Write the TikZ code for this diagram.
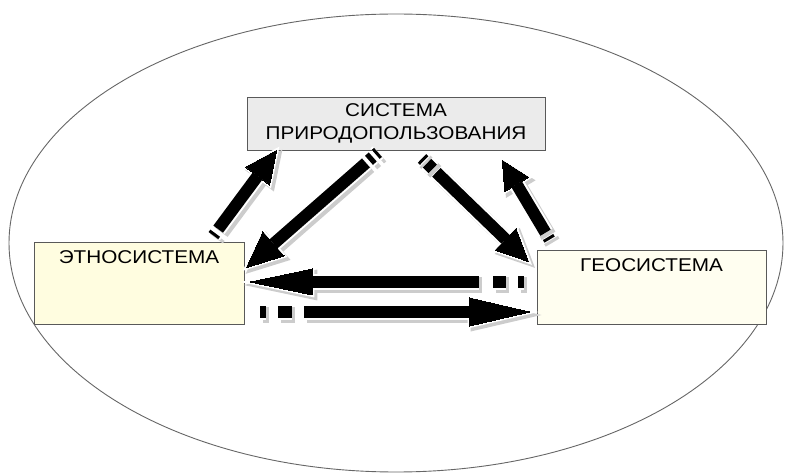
\documentclass[tikz,border=0pt]{standalone}
\usepackage{fontspec}
\setmainfont{Liberation Sans}[FakeStretch=1.12]
\usetikzlibrary{calc}
\tikzset{
  box/.style={draw=black!65, line width=0.8pt, inner sep=0pt, font=\fontsize{18.5}{23}\selectfont},
  sysbox/.style={box, fill=black!8, minimum width=298pt, minimum height=53pt, align=center},
  ethnobox/.style={box, fill=yellow!12, minimum width=210pt, text height=22pt, text depth=60pt},
  geobox/.style={box, fill=yellow!6, minimum width=229pt, text height=22pt, text depth=52pt},
  tail1/.style={dash pattern=on 3pt off 5pt on 500pt},
  tail2/.style={dash pattern=on 3pt off 4pt on 5pt off 4pt on 500pt},
  tail3/.style={dash pattern=on 3pt off 4pt on 8pt off 5pt on 500pt},
  tail4/.style={dash pattern=on 3pt off 5pt on 500pt},
  tail5/.style={dash pattern=on 6pt off 12pt on 13pt off 14pt on 500pt},
  tail6/.style={dash pattern=on 6pt off 12pt on 14pt off 12pt on 500pt}
}
\begin{document}
\begin{tikzpicture}[x=1pt,y=-1pt]
\useasboundingbox (0,0) rectangle (785,473);
\draw[black!60, line width=0.9pt] (396,243) ellipse [x radius=387, y radius=229];

\node[sysbox] (sys) at (396,123.5) {СИСТЕМА\\ПРИРОДОПОЛЬЗОВАНИЯ};
\node[ethnobox] (ethno) at (139,283) {ЭТНОСИСТЕМА};
\node[geobox] (geo) at (651.5,287) {ГЕОСИСТЕМА};

\coordinate (a1) at ([xshift=-31pt,yshift=6pt]ethno.north east);
\coordinate (b1) at ([xshift=30pt]sys.south west);
\coordinate (a2) at ([xshift=-18pt,yshift=-2pt]sys.south);
\coordinate (b2) at ([xshift=2pt,yshift=-26pt]ethno.north east);
\coordinate (a3) at ([xshift=26pt,yshift=-8pt]sys.south);
\coordinate (b3) at ([xshift=-8pt,yshift=-12pt]geo.north west);
\coordinate (a4) at ([xshift=13pt,yshift=10pt]geo.north west);
\coordinate (b4) at ([xshift=-43pt,yshift=-10pt]sys.south east);
\coordinate (a5) at ([xshift=-13pt,yshift=5pt]geo.west);
\coordinate (b5) at ([xshift=6pt,yshift=1pt]ethno.east);
\coordinate (a6) at ([xshift=16pt,yshift=-29pt]ethno.east);
\coordinate (b6) at ([xshift=-7pt,yshift=-25pt]geo.west);

\foreach \a/\b/\hl/\hw/\sw [count=\i] in {a1/b1/32pt/15pt/12pt, a2/b2/36pt/16pt/12pt, a3/b3/32pt/15pt/12pt, a4/b4/28pt/14pt/12pt, a5/b5/62pt/13pt/12pt, a6/b6/60pt/14pt/12pt}
  \foreach \col/\w/\d in {black!20/4pt/3pt, white/4pt/0pt, black/0pt/0pt} {
    \begin{scope}[transform canvas={shift={(\d,-\d)}}, \col]
      \coordinate (h) at ($(\b)!\hl!(\a)$);
      \draw[tail\i, line width=\sw+\w] (\a) -- (h);
      \filldraw[line width=\w, line join=miter] (\b) -- ($(h)!\hw!90:(\b)$) -- ($(h)!\hw!-90:(\b)$) -- cycle;
    \end{scope}}
\end{tikzpicture}
\end{document}
